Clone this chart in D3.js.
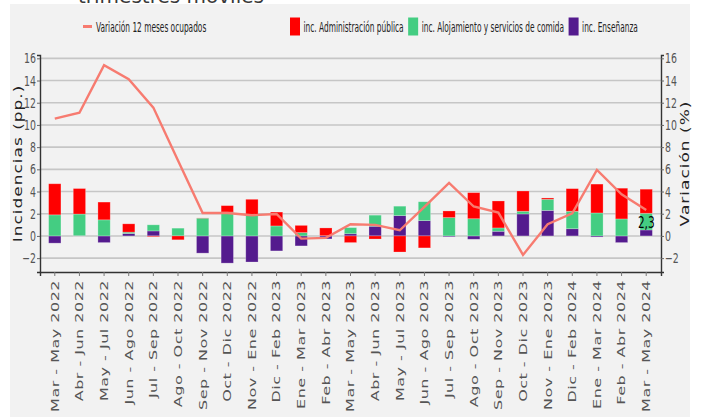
<!DOCTYPE html>
<html>
<head>
<meta charset="utf-8">
<script src="https://cdn.jsdelivr.net/npm/d3@7"></script>
<style>
  body { margin:0; background:#fff; }
  text { font-family: "DejaVu Sans", sans-serif; }
</style>
</head>
<body>
<script>
const categories = ["Mar - May 2022","Abr - Jun 2022","May - Jul 2022","Jun - Ago 2022","Jul - Sep 2022","Ago - Oct 2022","Sep - Nov 2022","Oct - Dic 2022","Nov - Ene 2022","Dic - Feb 2023","Ene - Mar 2023","Feb - Abr 2023","Mar - May 2023","Abr - Jun 2023","May - Jul 2023","Jun - Ago 2023","Jul - Sep 2023","Ago - Oct 2023","Sep - Nov 2023","Oct - Dic 2023","Nov - Ene 2023","Dic - Feb 2024","Ene - Mar 2024","Feb - Abr 2024","Mar - May 2024"]
const adminPublica = [2.8,2.3,1.6,0.75,-0.07,-0.35,0.02,0.58,1.45,1.25,0.65,0.7,-0.6,-0.28,-1.45,-1.08,0.6,2.35,2.43,1.83,0.12,2.04,2.6,2.77,2.17]
const alojamiento = [1.9,1.95,1.45,0.12,0.55,0.7,1.6,2.15,1.85,0.9,0.3,0.02,0.55,1.0,0.85,1.7,1.65,1.55,0.3,0.24,1.0,1.57,2.07,1.53,1.5]
const ensenanza = [-0.65,0.02,-0.6,0.22,0.45,0,-1.55,-2.45,-2.35,-1.35,-0.9,-0.27,0.2,0.87,1.83,1.38,-0.08,-0.3,0.42,1.98,2.3,0.65,-0.1,-0.6,0.54]
const variacion = [10.57,11.1,15.38,14.12,11.56,6.8,2.07,2.07,1.86,1.98,-0.24,-0.18,1.05,1.0,0.51,2.61,4.77,2.65,2.1,-1.71,1.05,2.04,5.95,3.75,2.34]
const yTicks = [-2,0,2,4,6,8,10,12,14,16]
const lastLabel = "2,3"

const width = 702, height = 417
const m = {top:55, bottom:272, left:40, right:661}
const colors = {ens:"#541b8e", aloj:"#44cd82", adm:"#ff0000", line:"#f77b70"}

const rows = categories.map((c,i)=>({cat:c, ens:ensenanza[i], aloj:alojamiento[i], adm:adminPublica[i]}))

const x = d3.scaleBand().domain(categories).range([m.left,m.right]).paddingInner(0.5).paddingOuter(0.35)
const y = d3.scaleLinear().domain([-3.25,16.3]).range([m.bottom,m.top])

const svg = d3.select("body").append("svg").attr("width",width).attr("height",height)

svg.append("rect").attr("x",10).attr("y",4).attr("width",680).attr("height",height-4).attr("fill","#f2f2f2")

// cut-off title
svg.append("text").attr("x",78).attr("y",3).attr("font-size",20).attr("fill","#3a3a3a").text("trimestres móviles")

// grid
svg.append("g").selectAll("line").data(yTicks).enter().append("line")
  .attr("x1",m.left).attr("x2",m.right)
  .attr("y1",d=>y(d)).attr("y2",d=>y(d))
  .attr("stroke","#c6c6c6").attr("stroke-width",1.6)

// bars
const series = d3.stack().keys(["ens","aloj","adm"]).offset(d3.stackOffsetDiverging)(rows)
svg.append("g").selectAll("g").data(series).enter().append("g")
  .attr("fill",d=>colors[d.key])
  .selectAll("rect").data(d=>d).enter().append("rect")
  .attr("x",d=>x(d.data.cat))
  .attr("width",x.bandwidth())
  .attr("y",d=>y(Math.max(d[0],d[1])))
  .attr("height",d=>Math.abs(y(d[0])-y(d[1])))
  .attr("stroke","rgba(255,255,255,0.3)").attr("stroke-width",0.8)

// line
const line = d3.line().x((d,i)=>x(categories[i])+x.bandwidth()/2).y(d=>y(d))
svg.append("path").datum(variacion).attr("d",line)
  .attr("fill","none").attr("stroke",colors.line).attr("stroke-width",2.4)

svg.append("text")
  .attr("transform",`translate(${x(categories[categories.length-1])+x.bandwidth()/2},${y(variacion[variacion.length-1])+18}) scale(0.7,1)`)
  .attr("text-anchor","middle").attr("font-size",15).attr("fill","#000").text(lastLabel)

// axes
const sq = 0.67
const yl = svg.append("g").attr("transform",`translate(${m.left},0)`)
  .call(d3.axisLeft(y).tickValues(yTicks).tickSize(3).tickPadding(1))
const yr = svg.append("g").attr("transform",`translate(${m.right},0)`)
  .call(d3.axisRight(y).tickValues(yTicks).tickSize(3).tickPadding(1))
;[yl,yr].forEach((g,k)=>{
  g.select(".domain").attr("stroke","#333").attr("stroke-width",1.4)
  g.selectAll(".tick line").attr("stroke","#666")
  g.selectAll("text").attr("font-size",14).attr("fill","#555").attr("font-family","DejaVu Sans")
    .attr("x",k==0 ? -4/sq : 4/sq).attr("transform",`scale(${sq},1)`)
})

const xa = svg.append("g").attr("transform",`translate(0,${m.bottom})`)
  .call(d3.axisBottom(x).tickSize(4))
xa.select(".domain").attr("stroke","#333").attr("stroke-width",1.4)
xa.selectAll(".tick line").attr("stroke","#777")
xa.selectAll("text").attr("font-size",16).attr("fill","#555").attr("font-family","DejaVu Sans")
  .attr("letter-spacing","0.5px")
  .attr("text-anchor","end").attr("x",-8).attr("y",0).attr("dy","0.35em")
  .attr("transform","scale(0.7,1) rotate(-90)")

const midY = (m.top+m.bottom)/2
svg.append("text").attr("transform",`translate(18,${midY}) scale(0.72,1) rotate(-90)`)
  .attr("text-anchor","middle").attr("dy","0.35em").attr("font-size",17).attr("letter-spacing","1px")
  .attr("fill","#222").text("Incidencias (pp.)")
svg.append("text").attr("transform",`translate(685,${midY}) scale(0.72,1) rotate(-90)`)
  .attr("text-anchor","middle").attr("dy","0.35em").attr("font-size",17).attr("letter-spacing","1px")
  .attr("fill","#222").text("Variación (%)")

// legend
const lg = svg.append("g").attr("font-size",13.5).attr("fill","#222")
const lsq = 0.55
lg.append("line").attr("x1",83).attr("x2",92).attr("y1",26.5).attr("y2",26.5).attr("stroke",colors.line).attr("stroke-width",3)
lg.append("text").attr("transform",`translate(96,32) scale(${lsq},1)`).text("Variación 12 meses ocupados")
const items = [["adm","inc. Administración pública"],["aloj","inc. Alojamiento y servicios de comida"],["ens","inc. Enseñanza"]]
let lx = 290
items.forEach(([k,label])=>{
  lg.append("rect").attr("x",lx).attr("y",17.5).attr("width",10).attr("height",18).attr("fill",colors[k])
  const t = lg.append("text").attr("transform",`translate(${lx+13.5},32) scale(${lsq},1)`).text(label)
  lx = lx + 13.5 + t.node().getComputedTextLength()*lsq + 4.5
})
</script>
</body>
</html>
